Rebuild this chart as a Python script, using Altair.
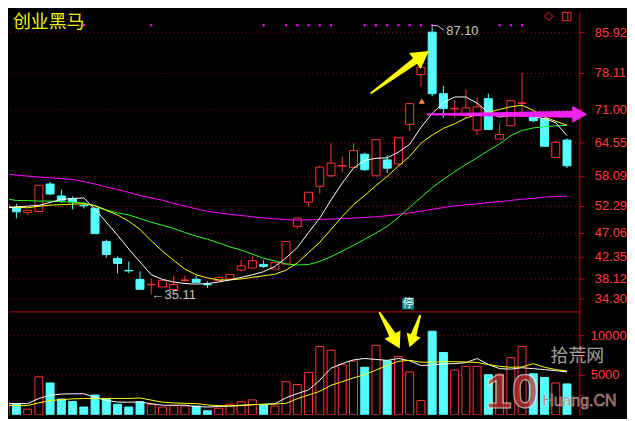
import altair as alt
import pandas as pd

TITLE = "创业黑马"

idx = list(range(51))
opens = [51.89, 51.89, 51.00, 51.18, 56.51, 54.20, 53.68, 52.40, 51.83, 45.34,
         42.07, 39.75, 38.02, 36.95, 36.54, 36.04, 37.78, 38.02, 37.05, 37.77,
         38.08, 39.81, 40.20, 40.91, 40.01, 40.97, 48.29, 52.99, 56.07, 58.11,
         59.98, 59.73, 62.29, 58.11, 61.19, 60.42, 68.07, 77.75, 85.98, 74.04,
         71.10, 70.19, 66.97, 73.07, 65.23, 67.82, 72.15, 70.19, 69.22, 61.65, 65.04]
highs = [52.66, 52.66, 51.40, 56.26, 56.90, 55.41, 54.14, 52.99, 51.83, 45.72,
         42.45, 41.49, 39.56, 38.08, 37.83, 38.73, 38.73, 38.73, 37.64, 38.60,
         38.93, 41.78, 42.45, 41.68, 41.24, 45.34, 49.90, 54.91, 60.11, 64.41,
         61.85, 64.41, 62.62, 65.12, 62.04, 65.50, 72.11, 79.18, 87.10, 75.58,
         72.88, 74.81, 73.27, 74.04, 68.39, 72.69, 78.08, 70.60, 69.22, 64.85, 65.37]
lows = [51.89, 49.83, 50.48, 51.18, 54.39, 52.85, 51.56, 51.75, 46.88, 42.26,
        39.18, 39.18, 36.09, 35.11, 36.54, 36.04, 37.47, 37.44, 36.34, 37.77,
        38.08, 39.60, 40.20, 40.20, 40.01, 40.97, 47.84, 52.22, 54.64, 57.86,
        58.76, 59.73, 59.07, 58.11, 58.63, 60.04, 66.78, 75.44, 73.52, 69.36,
        69.36, 69.36, 66.01, 67.10, 65.23, 67.82, 70.51, 68.50, 63.83, 61.65, 59.59]
closes = [52.66, 51.12, 51.40, 56.26, 54.58, 53.37, 53.04, 52.28, 46.88, 42.84,
          41.10, 39.65, 36.09, 37.05, 37.83, 37.00, 37.88, 37.44, 36.95, 38.35,
          38.93, 40.66, 41.62, 40.53, 41.24, 45.34, 49.90, 54.91, 59.78, 60.56,
          60.10, 63.00, 59.27, 65.12, 59.59, 65.50, 72.11, 79.18, 74.04, 71.15,
          71.20, 71.28, 71.48, 67.10, 66.14, 72.69, 72.25, 68.78, 63.83, 64.60, 60.04]
volumes = [1628, 1395, 698, 4767, 3988, 1977, 1663, 965, 2477, 2047,
           1314, 965, 1628, 1314, 965, 1116, 1081, 1081, 500, 814,
           1314, 1628, 1860, 1279, 1081, 4151, 3802, 5314, 8570, 8105,
           6279, 6744, 5965, 8721, 6779, 7326, 5384, 1779, 10500, 7826,
           5616, 6081, 6081, 5035, 5100, 7174, 8570, 5151, 4686, 3988, 3872]
ma5 = [51.8, 52.08, 52.21, 52.37, 52.94, 53.52, 53.72, 53.81, 51.6, 49.1,
       46.6, 43.9, 41.4, 38.9, 38.0, 37.5, 37.2, 37.1, 37.2, 37.5,
       37.9, 38.4, 38.9, 39.5, 40.5, 42.2, 44.2, 47.1, 49.9, 53.4,
       56.7, 59.6, 61.1, 61.5, 61.6, 62.7, 64.2, 67.5, 70.2, 72.3,
       73.4, 73.4, 72.2, 70.4, 69.5, 69.8, 70.4, 69.6, 69.2, 68.4, 65.9]
ma10 = [52.1, 52.0, 51.9, 52.2, 52.4, 52.5, 52.6, 52.7, 52.3, 51.4,
        50.5, 49.3, 47.7, 45.5, 43.5, 41.7, 40.0, 38.9, 38.3, 37.9,
        37.9, 38.1, 38.4, 38.7, 39.0, 39.8, 41.2, 43.2, 45.2, 47.7,
        50.2, 52.5, 54.3, 56.2, 58.0, 60.0, 61.9, 64.4, 66.0, 67.3,
        68.2, 69.3, 70.0, 70.4, 71.0, 71.5, 71.8, 70.8, 69.5, 68.7, 67.9]
ma20 = [53.7, 53.3, 53.3, 53.2, 53.2, 53.1, 53.0, 52.8, 52.3, 51.5,
        50.9, 50.5, 49.8, 49.1, 48.5, 47.9, 47.1, 46.4, 45.8, 45.1,
        44.3, 43.7, 42.9, 42.1, 41.6, 41.0, 40.8, 40.9, 41.5, 42.4,
        43.5, 44.6, 45.8, 47.0, 48.3, 50.0, 52.0, 53.9, 55.8, 57.4,
        58.9, 60.3, 61.6, 63.0, 64.3, 65.9, 66.9, 67.4, 67.6, 67.8, 67.9]
ma60 = [58.49, 58.24, 58.05, 57.86, 57.72, 57.57, 57.38, 56.99, 56.51, 55.93,
        55.45, 54.87, 54.30, 53.81, 53.37, 52.76, 52.22, 51.70, 51.21, 50.92,
        50.64, 50.41, 50.15, 49.92, 49.77, 49.62, 49.52, 49.54, 49.63, 49.73,
        49.81, 49.90, 50.02, 50.15, 50.35, 50.60, 50.92, 51.25, 51.60, 51.94,
        52.27, 52.47, 52.66, 52.91, 53.08, 53.33, 53.56, 53.72, 53.97, 54.08, 54.14]
vma5 = [1396, 1396, 1396, 2047, 2442, 2594, 2628, 2628, 2186, 1803,
        1593, 1570, 1605, 1372, 1198, 1198, 1198, 1023, 965, 1023,
        1082, 1140, 1256, 1314, 1372, 2128, 2652, 3117, 4338, 5850,
        6431, 6897, 7071, 6955, 6838, 7071, 6780, 6199, 6257, 6373,
        6431, 6548, 7071, 6315, 5792, 5734, 5908, 5792, 5675, 5536, 5385]
vma10 = [1163, 1163, 1163, 1489, 1779, 1896, 1989, 2035, 2047, 2047,
         2047, 2047, 2105, 1838, 1570, 1489, 1430, 1396, 1221, 1140,
         1105, 1198, 1256, 1314, 1337, 1430, 2012, 2477, 2942, 3698,
         4163, 4629, 5036, 5617, 6199, 6722, 6838, 6606, 6606, 6664,
         6664, 6629, 6571, 6315, 6083, 5966, 6001, 6431, 5966, 5675, 5501]
signal_idx = [7, 13, 23, 25, 26, 27, 28, 29, 32, 33, 34, 35, 36, 37, 38, 44, 45, 46]
price_ticks = [85.92, 78.11, 71.00, 64.55, 58.09, 52.29, 47.06, 42.35, 38.12, 34.30]
vol_ticks = [2500, 5000, 7500, 10000]
vol_grid = [5000, 10000]
high_mark = 87.10
low_mark = 35.11

# ---------------- styling ----------------
RED = "#FF3333"
CYAN = "#55FFFF"
AXIS = "#C00000"
GRID = "#B80000"
LABEL = "#FF3C3C"
YEL = "#FFFF00"
MAG = "#FF00FF"
GREEN = "#22FF22"
GRAY = "#C8C8C8"

W, HP, HV = 574, 301, 104
xs = alt.Scale(domain=[0.783, 50.653], nice=False, zero=False)
ps = alt.Scale(domain=[31.80, 89.83], nice=False, zero=False)
vs = alt.Scale(domain=[0, 13000], nice=False, zero=False)

df = pd.DataFrame(dict(i=idx, open=opens, high=highs, low=lows, close=closes,
                       vol=volumes, ma5=ma5, ma10=ma10, ma20=ma20, ma60=ma60,
                       vma5=vma5, vma10=vma10))
df["kind"] = ["up" if c >= o else "down" for o, c in zip(opens, closes)]
df["top"] = df[["open", "close"]].max(axis=1)
df["bot"] = df[["open", "close"]].min(axis=1)

fill_sc = alt.Scale(domain=["up", "down"], range=["#000000", CYAN])
stroke_sc = alt.Scale(domain=["up", "down"], range=[RED, CYAN])

x_axis_p = alt.Axis(orient="bottom", labels=False, ticks=False, domain=True,
                    domainColor=AXIS, grid=False, title=None)
p_axis = alt.Axis(orient="right", values=price_ticks, format=".2f", title=None,
                  labelColor=LABEL, labelFont="Liberation Sans", labelFontSize=13,
                  tickColor=AXIS, tickSize=5, domainColor=AXIS, labelPadding=10,
                  grid=True, gridColor=GRID, gridDash=[1, 3], gridWidth=1,
                  labelOverlap=False, labelFlush=False, labelBound=False)
v_axis = alt.Axis(orient="right", values=vol_ticks, format="d", title=None,
                  labelExpr="datum.value % 5000 == 0 ? datum.label : ''",
                  labelColor=LABEL, labelFont="Liberation Sans", labelFontSize=13,
                  tickColor=AXIS, tickSize=5, domainColor=AXIS, labelPadding=6,
                  grid=False, labelOverlap=False, labelFlush=False, labelBound=False)


def PX(f="i"):
    return alt.X(f"{f}:Q", scale=xs, axis=x_axis_p)


def PY(f):
    return alt.Y(f"{f}:Q", scale=ps, axis=p_axis)


def VX(f="i"):
    return alt.X(f"{f}:Q", scale=xs, axis=None)


def VY(f):
    return alt.Y(f"{f}:Q", scale=vs, axis=v_axis)


base = alt.Chart(df)

# ---------------- price panel ----------------
wick_hi = base.mark_rule(strokeWidth=1, clip=True).encode(
    x=PX(), y=PY("high"), y2="top:Q",
    color=alt.Color("kind:N", scale=stroke_sc, legend=None))
wick_lo = base.mark_rule(strokeWidth=1, clip=True).encode(
    x=PX(), y=PY("bot"), y2="low:Q",
    color=alt.Color("kind:N", scale=stroke_sc, legend=None))
body = base.mark_bar(width=8, strokeWidth=1, clip=True).encode(
    x=PX(), y=PY("open"), y2="close:Q",
    fill=alt.Fill("kind:N", scale=fill_sc, legend=None),
    stroke=alt.Stroke("kind:N", scale=stroke_sc, legend=None))


def ma_line(field, color):
    return base.mark_line(strokeWidth=1, clip=True, color=color).encode(x=PX(), y=PY(field))


dots = alt.Chart(pd.DataFrame({"i": signal_idx})).mark_square(
    size=5, color=MAG, opacity=1).encode(x=PX(), y=alt.value(13))

title = alt.Chart(pd.DataFrame({"t": [TITLE]})).mark_text(
    align="left", baseline="middle", font="Noto Sans CJK SC", fontSize=18,
    color="#F2F200").encode(text="t:N", x=alt.value(4), y=alt.value(11))

hi_txt = alt.Chart(pd.DataFrame({"i": [39.25], "p": [86.2], "t": [f"{high_mark:.2f}"]})).mark_text(
    align="left", baseline="middle", font="Liberation Sans", fontSize=13, color=GRAY
).encode(x=PX(), y=PY("p"), text="t:N")
hi_hook = alt.Chart(pd.DataFrame({"i": [38.0, 38.45, 39.05], "p": [87.25, 87.25, 86.35]})).mark_line(
    color=GRAY, strokeWidth=1).encode(x=PX(), y=PY("p"), order="i:Q")
lo_txt = alt.Chart(pd.DataFrame({"i": [13.03], "p": [34.95], "t": [f"←{low_mark:.2f}"]})).mark_text(
    align="left", baseline="middle", font="Liberation Sans", fontSize=13, color=GRAY
).encode(x=PX(), y=PY("p"), text="t:N")

orange = alt.Chart(pd.DataFrame({"i": [37.08], "p": [72.6]})).mark_point(
    shape="triangle-up", filled=True, size=40, color="#FF8850", opacity=1
).encode(x=PX(), y=PY("p"))

ting_box = alt.Chart(pd.DataFrame({"i": [35.86], "p": [33.3]})).mark_square(
    size=140, color="#0E8A8A", opacity=1).encode(x=PX(), y=PY("p"))
ting_txt = alt.Chart(pd.DataFrame({"i": [35.86], "p": [33.3], "t": ["停"]})).mark_text(
    font="Noto Sans CJK SC", fontSize=11, color="#FFFFFF", baseline="middle"
).encode(x=PX(), y=PY("p"), text="t:N")

up_shaft = alt.Chart(pd.DataFrame({"i": [32.58, 36.48], "p": [74.17, 80.39], "w": [2, 7]})).mark_trail(
    color=YEL).encode(x=PX(), y=PY("p"), size=alt.Size("w:Q", scale=None, legend=None))
up_head = alt.Chart(pd.DataFrame({"i": [37.09], "p": [81.35]})).mark_point(
    shape="triangle-right", filled=True, size=400, angle=324.6, color=YEL, opacity=1
).encode(x=PX(), y=PY("p"))

mag_shaft = alt.Chart(pd.DataFrame({"i": [37.62, 50.5], "p": [70.03, 70.03], "w": [2, 7]})).mark_trail(
    color="#F020F0").encode(x=PX(), y=PY("p"), size=alt.Size("w:Q", scale=None, legend=None))
mag_head = alt.Chart(pd.DataFrame({"i": [51.13], "p": [70.03]})).mark_point(
    shape="triangle-right", filled=True, size=300, color="#F020F0", opacity=1
).encode(x=PX(), y=PY("p"))

icon_d = alt.Chart(pd.DataFrame({"i": [48.37], "p": [89.06]})).mark_point(
    shape="diamond", filled=False, size=70, color="#D02020", strokeWidth=1.2
).encode(x=PX(), y=PY("p"))
icon_r = alt.Chart(pd.DataFrame({"i": [49.6], "i2": [50.35], "p": [89.8], "p2": [88.2]})).mark_rect(
    fill="#000000", stroke="#D02020", strokeWidth=1.2
).encode(x=PX(), x2="i2:Q", y=PY("p"), y2="p2:Q")
icon_l = alt.Chart(pd.DataFrame({"i": [50.07], "p": [89.8], "p2": [88.2]})).mark_rule(
    color="#D02020", strokeWidth=1.2).encode(x=PX(), y=PY("p"), y2="p2:Q")

price = alt.layer(
    wick_hi, wick_lo, body,
    ma_line("ma60", MAG), ma_line("ma20", GREEN), ma_line("ma10", YEL), ma_line("ma5", "#FFFFFF"),
    dots, title, hi_hook, hi_txt, lo_txt, orange, ting_box, ting_txt,
    up_shaft, up_head, mag_shaft, mag_head, icon_d, icon_r, icon_l
).properties(width=W, height=HP)

# ---------------- volume panel ----------------
vgrid = alt.Chart(pd.DataFrame({"v": vol_grid})).mark_rule(
    color=GRID, strokeDash=[1, 3], strokeWidth=1).encode(y=VY("v"))
vbars = base.mark_bar(width=8, strokeWidth=1, clip=True).encode(
    x=VX(), y=VY("vol"), y2=alt.datum(0),
    fill=alt.Fill("kind:N", scale=fill_sc, legend=None),
    stroke=alt.Stroke("kind:N", scale=stroke_sc, legend=None))
vl5 = base.mark_line(strokeWidth=1, clip=True, color="#FFFFFF").encode(x=VX(), y=VY("vma5"))
vl10 = base.mark_line(strokeWidth=1, clip=True, color=YEL).encode(x=VX(), y=VY("vma10"))

a1_shaft = alt.Chart(pd.DataFrame({"i": [33.34, 34.45], "v": [12800, 10100], "w": [2, 7]})).mark_trail(
    color=YEL).encode(x=VX(), y=VY("v"), size=alt.Size("w:Q", scale=None, legend=None))
a1_head = alt.Chart(pd.DataFrame({"i": [34.79], "v": [9200]})).mark_point(
    shape="triangle-right", filled=True, size=330, angle=61.8, color=YEL, opacity=1
).encode(x=VX(), y=VY("v"))
a2_shaft = alt.Chart(pd.DataFrame({"i": [36.92, 36.34], "v": [12460, 9975], "w": [2, 6]})).mark_trail(
    color=YEL).encode(x=VX(), y=VY("v"), size=alt.Size("w:Q", scale=None, legend=None))
a2_head = alt.Chart(pd.DataFrame({"i": [36.17], "v": [9240]})).mark_point(
    shape="triangle-right", filled=True, size=220, angle=108.7, color=YEL, opacity=1
).encode(x=VX(), y=VY("v"))

wm1 = alt.Chart(pd.DataFrame({"t": ["10"]})).mark_text(
    font="Liberation Sans", fontSize=48, fontWeight="bold", color="#C83030",
    stroke="#E8E8E8", strokeWidth=1, opacity=0.75, baseline="middle"
).encode(text="t:N", x=alt.value(506), y=alt.value(83))
wm2 = alt.Chart(pd.DataFrame({"t": ["拾荒网"]})).mark_text(
    font="Noto Sans CJK SC", fontSize=18, color="#E0E0E0", opacity=0.7, baseline="middle"
).encode(text="t:N", x=alt.value(572), y=alt.value(46))
wm3 = alt.Chart(pd.DataFrame({"t": ["Huang.CN"]})).mark_text(
    font="Liberation Sans", fontSize=16, color="#C83030", stroke="#E0E0E0",
    strokeWidth=0.5, opacity=0.8, baseline="middle"
).encode(text="t:N", x=alt.value(574), y=alt.value(90))

vol = alt.layer(vgrid, vbars, vl5, vl10, a1_shaft, a1_head, a2_shaft, a2_head,
                wm1, wm2, wm3).properties(width=W, height=HV)

chart = alt.vconcat(price, vol, spacing=0, bounds="flush").properties(
    padding=0, background="#000000"
).configure_view(stroke=None)

chart.save("out.html", embed_options={"renderer": "svg", "actions": False})
